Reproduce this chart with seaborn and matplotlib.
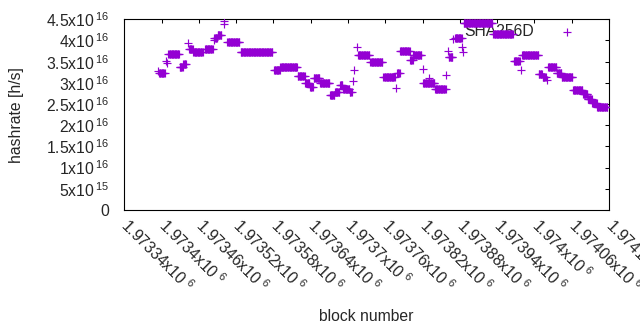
import numpy as np
import pandas as pd
import seaborn as sns
import matplotlib
matplotlib.use('Agg')
import matplotlib.pyplot as plt

# segments of blocks with the same hashrate estimate (value in units of 1e16 h/s)
seg_start = [1973395, 1973396, 1973407, 1973409, 1973411, 1973429, 1973435, 1973442,
             1973444, 1973451, 1973470, 1973484, 1973485, 1973490, 1973500, 1973501,
             1973506, 1973527, 1973581, 1973591, 1973619, 1973631, 1973639, 1973645,
             1973655, 1973671, 1973679, 1973687, 1973692, 1973703, 1973708, 1973710,
             1973714, 1973716, 1973736, 1973757, 1973777, 1973779, 1973784, 1973800,
             1973805, 1973820, 1973821, 1973830, 1973840, 1973858, 1973861, 1973862,
             1973869, 1973872, 1973884, 1973885, 1973886, 1973934, 1973967, 1973978,
             1973980, 1974007, 1974013, 1974020, 1974022, 1974036, 1974044, 1974062,
             1974078, 1974086, 1974093, 1974101]
seg_end = [1973395, 1973405, 1973407, 1973409, 1973428, 1973434, 1973439, 1973442,
           1973450, 1973466, 1973482, 1973484, 1973489, 1973496, 1973500, 1973501,
           1973525, 1973578, 1973590, 1973618, 1973630, 1973638, 1973643, 1973654,
           1973670, 1973678, 1973686, 1973691, 1973702, 1973706, 1973708, 1973710,
           1973714, 1973734, 1973755, 1973775, 1973777, 1973783, 1973799, 1973804,
           1973818, 1973820, 1973839, 1973830, 1973857, 1973858, 1973861, 1973868,
           1973869, 1973883, 1973884, 1973885, 1973932, 1973965, 1973976, 1973978,
           1974006, 1974012, 1974018, 1974020, 1974035, 1974043, 1974061, 1974077,
           1974085, 1974092, 1974100, 1974117]
seg_value = [3.28, 3.23, 3.52, 3.48, 3.67, 3.37, 3.44, 3.93,
             3.79, 3.72, 3.81, 4.01, 4.05, 4.13, 4.45, 4.40,
             3.96, 3.72, 3.30, 3.37, 3.16, 2.99, 2.90, 3.12,
             2.99, 2.71, 2.79, 2.95, 2.85, 2.79, 3.04, 3.30,
             3.84, 3.66, 3.49, 3.15, 2.87, 3.24, 3.75, 3.54,
             3.66, 3.32, 2.99, 3.11, 2.86, 3.19, 3.75, 3.62,
             4.03, 4.05, 3.85, 3.74, 4.42, 4.15, 3.52, 3.30,
             3.66, 3.20, 3.15, 3.07, 3.37, 3.23, 3.15, 2.83,
             2.74, 2.61, 2.52, 2.44]

xtick_vals = [1973340, 1973400, 1973460, 1973520, 1973580, 1973640, 1973700,
              1973760, 1973820, 1973880, 1973940, 1974000, 1974060, 1974120]
xtick_labels = ['1.97334', '1.9734', '1.97346', '1.97352', '1.97358', '1.97364', '1.9737',
                '1.97376', '1.97382', '1.97388', '1.97394', '1.974', '1.97406', '1.97412']
ytick_vals = [0, 0.5e16, 1e16, 1.5e16, 2e16, 2.5e16, 3e16, 3.5e16, 4e16, 4.5e16]
ytick_mant = ['0', '5', '1', '1.5', '2', '2.5', '3', '3.5', '4', '4.5']
ytick_exp = ['', '15', '16', '16', '16', '16', '16', '16', '16', '16']

rows = []
for s, e, v in zip(seg_start, seg_end, seg_value):
    for b in range(s, e + 1):
        rows.append((b, v * 1e16))
df = pd.DataFrame(rows, columns=['block', 'hashrate'])

sns.set_style('white')
plt.rcParams['font.family'] = ['Liberation Sans', 'DejaVu Sans']
plt.rcParams['mathtext.fontset'] = 'custom'
plt.rcParams['mathtext.rm'] = 'Liberation Sans'
plt.rcParams['mathtext.default'] = 'regular'
fs = 11.3

fig, ax = plt.subplots(figsize=(6.4, 3.3), dpi=100)
fig.subplots_adjust(left=124.3 / 640, right=609 / 640, top=1 - 19.3 / 330, bottom=1 - 210 / 330)

sns.scatterplot(data=df, x='block', y='hashrate', marker='+', s=32, color='#9400d3',
                linewidth=0.85, label='SHA256D', ax=ax, zorder=3)

ax.set_xlim(1973340, 1974120)
ax.set_ylim(0, 4.5e16)

ax.set_xticks(xtick_vals)
ax.set_xticklabels([m + r'x10$^{\ 6}$' for m in xtick_labels], rotation=-45, ha='left',
                   va='center', rotation_mode='anchor', fontsize=fs)
ax.set_yticks(ytick_vals)
ax.set_yticklabels([m if e == '' else m + r'x10$^{\,' + e + '}$' for m, e in zip(ytick_mant, ytick_exp)],
                   fontsize=fs)
ax.tick_params(direction='in', length=2.6, width=0.75, top=True, right=True, color='black')
ax.tick_params(axis='y', pad=11)
ax.tick_params(axis='x', pad=9)
for sp in ax.spines.values():
    sp.set_color('black')
    sp.set_linewidth(0.8)

ax.set_ylabel('hashrate [h/s]', fontsize=fs, va='center')
ax.yaxis.set_label_coords(-0.222, 0.5)
ax.set_xlabel('block number', fontsize=fs, va='center')
ax.xaxis.set_label_coords(0.5, -0.556)

leg = ax.legend(loc='center right', bbox_to_anchor=(0.9464, 0.935), markerfirst=False,
                frameon=False, fontsize=fs, borderpad=0, borderaxespad=0,
                handlelength=2.0, handletextpad=1.1)
leg.set_zorder(1)

plt.savefig('out.png', dpi=100)
